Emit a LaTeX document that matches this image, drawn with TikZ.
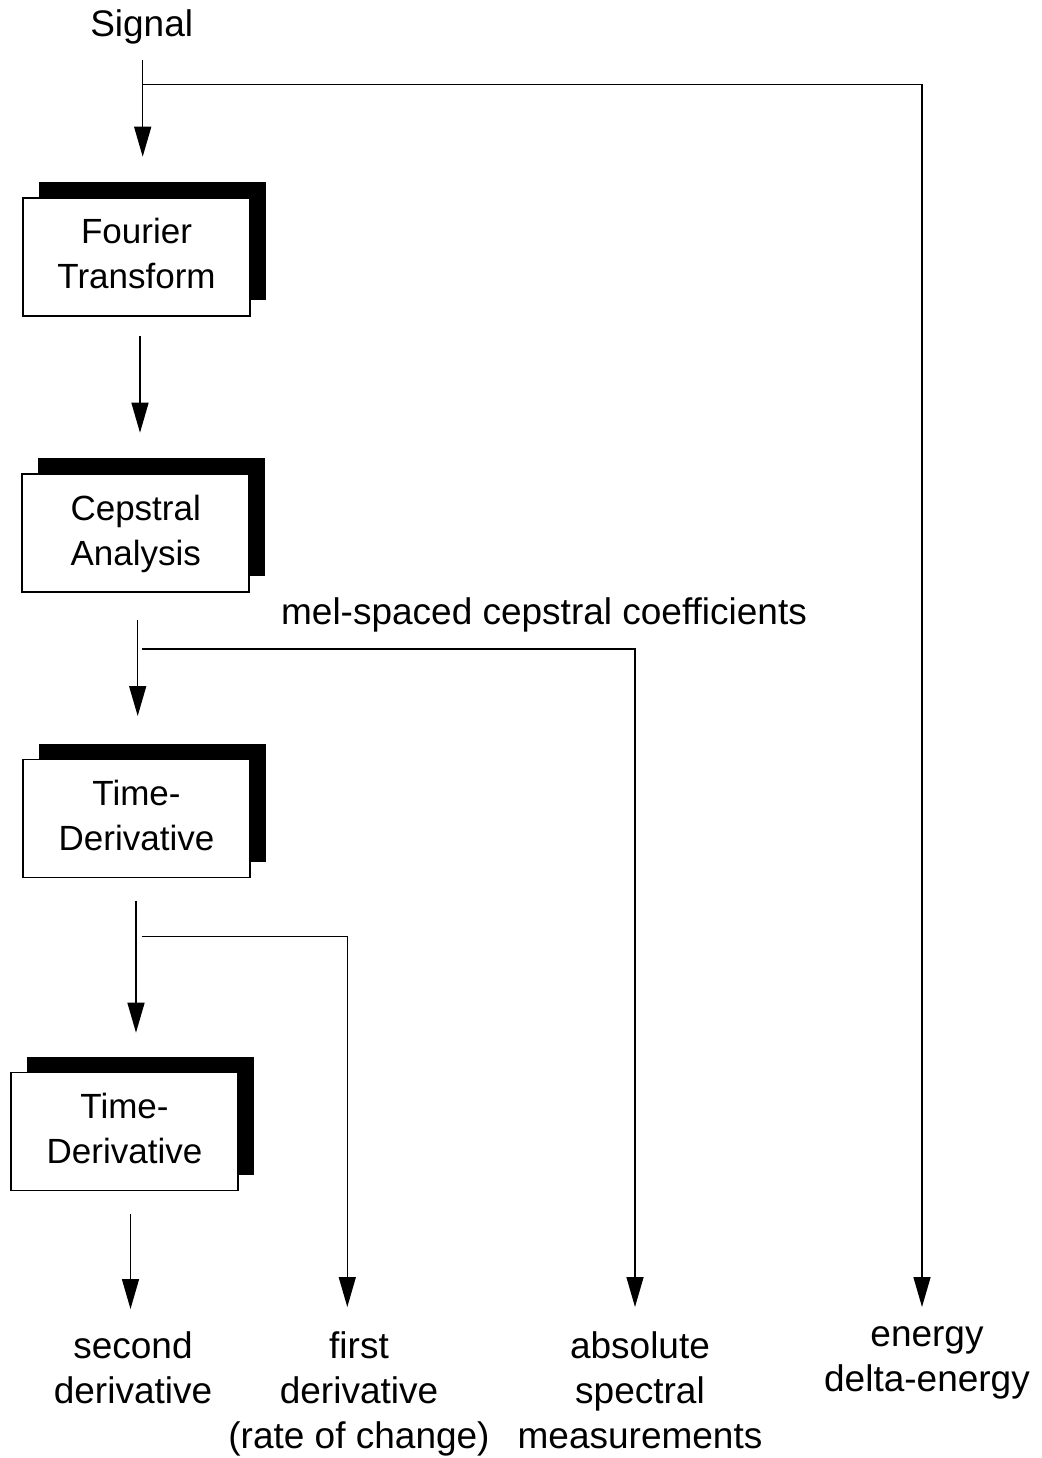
\documentclass[tikz,border=0pt]{standalone}
\usepackage{fontspec}
\setmainfont{Liberation Sans}
\usetikzlibrary{positioning,shadows,arrows.meta}

\begin{document}
\begin{tikzpicture}[x=1pt, y=-1pt,
	stage/.style={draw,
		fill=white,
		line width=1.6pt,
		minimum width=227pt,
		minimum height=118pt,
		inner sep=0pt,
		align=center,
		text depth=6pt,
		font=\fontsize{35}{45}\selectfont,
		general shadow={fill=black, shadow xshift=16pt, shadow yshift=16pt}
	},
	result/.style={align=center, inner sep=0pt, font=\fontsize{37}{45}\selectfont},
	link/.style={line width=1.5pt},
	flow/.style={link, -{Triangle[length=30pt,width=17pt]}}
]

\useasboundingbox (0, 0) rectangle (1041, 1458);

% Signal
\node [result] (signal) at (141.7, 27) {Signal};

% Fourier transform
\node [stage] (fourier) at (136.5, 256.8) {Fourier\\Transform};

% Cepstral analysis
\node [stage] (cepstral) at (135.7, 532.9) {Cepstral\\Analysis};

% First time derivative
\node [stage] (deriv_1) at (136.5, 818.5) {Time-\\Derivative};

% Second time derivative
\node [stage] (deriv_2) at (124.5, 1131.5) {Time-\\Derivative};

% Outputs
\node [result] (mel) at (544, 615) {mel-spaced cepstral coefficients};
\node [result] (second) at (133, 1368) {second\\derivative};
\node [result] (first) at (359, 1394) {first\\derivative\\(rate of change)};
\node [result] (absolute) at (640, 1390) {absolute\\spectral\\measurements};
\node [result] (energy) at (927, 1362.5) {energy\\delta-energy};

% Ends of the connectors
\coordinate (signal_out) at (142.7, 60);
\coordinate (signal_tap) at (142.7, 84.3);
\coordinate (fourier_in) at (142.7, 156.7);
\coordinate (fourier_out) at (140, 336);
\coordinate (cepstral_in) at (140, 432.7);
\coordinate (cepstral_out) at (137.7, 620);
\coordinate (cepstral_tap) at (142.3, 649);
\coordinate (deriv_1_in) at (137.7, 716);
\coordinate (deriv_1_out) at (136, 900.7);
\coordinate (deriv_1_tap) at (142.3, 936.7);
\coordinate (deriv_2_in) at (136, 1032.7);
\coordinate (deriv_2_out) at (130.5, 1214);
\coordinate (second_in) at (130.5, 1309);
\coordinate (first_in) at (347.3, 1307);
\coordinate (absolute_in) at (635, 1307);
\coordinate (energy_in) at (922, 1307);

% Arrows
\draw[flow] (signal_out) -- (fourier_in);
\draw[flow] (signal_tap) -| (energy_in);
\draw[flow] (fourier_out) -- (cepstral_in);
\draw[flow] (cepstral_out) -- (deriv_1_in);
\draw[flow] (cepstral_tap) -| (absolute_in);
\draw[flow] (deriv_1_out) -- (deriv_2_in);
\draw[flow] (deriv_1_tap) -| (first_in);
\draw[flow] (deriv_2_out) -- (second_in);

\end{tikzpicture}
\end{document}
